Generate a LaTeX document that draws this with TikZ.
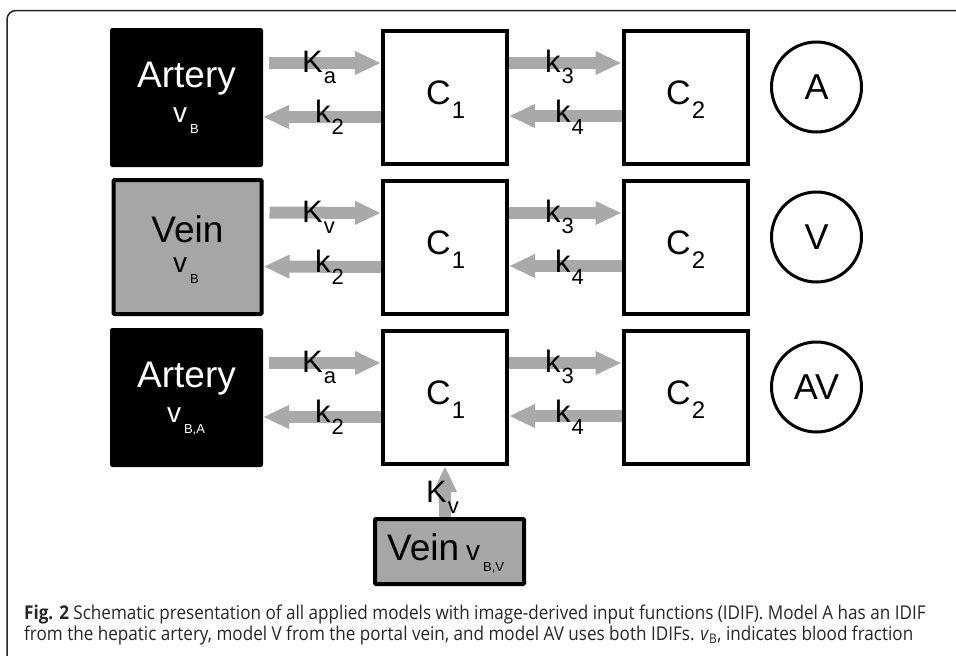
\documentclass[tikz,border=0pt]{standalone}
\usepackage{fontspec}
\setmainfont{Liberation Sans}
\newfontfamily\capfont[FakeStretch=0.9]{Open Sans}
\usetikzlibrary{arrows.meta}
\definecolor{arrowgray}{HTML}{A9A9A9}
\definecolor{veingray}{HTML}{A6A6A6}
\newcommand{\klab}[3]{{\fontsize{31}{31}\selectfont #1}\hspace{1pt}\raisebox{-#3}{\fontsize{22}{22}\selectfont #2}}
\newcommand{\clab}[2]{{\fontsize{34}{34}\selectfont C}\hspace{1pt}\raisebox{-14pt}{\fontsize{24}{24}\selectfont #2}}
\newcommand{\vlab}[1]{{\fontsize{28}{28}\selectfont v}\hspace{3pt}\raisebox{-11pt}{\fontsize{13}{13}\selectfont #1}}
\begin{document}
\begin{tikzpicture}[x=1pt,y=-1pt,
 cbox/.style={draw=black,line width=4pt,fill=white,minimum width=124pt,minimum height=133pt,inner sep=0},
 artbox/.style={draw=black,fill=black,line width=1pt,rounded corners=2pt,minimum width=152pt,minimum height=138pt,inner sep=0},
 veinbox/.style={draw=black,fill=veingray,line width=4pt,rounded corners=1pt,minimum width=148pt,minimum height=134pt,inner sep=0},
 ga/.style={draw=arrowgray,line width=12pt,-{Triangle[length=26pt,width=22pt]}},
 lbl/.style={inner sep=0,anchor=base west},
 btxt/.style={inner sep=0,anchor=base},
 circ/.style={draw=black,line width=3pt,circle,minimum size=90pt,inner sep=0,font=\fontsize{36}{36}\selectfont}]
\useasboundingbox (0,0) rectangle (956,656);
% frame
\draw[line width=1.5pt,black!85,rounded corners=9pt] (7,656) -- (7,10.5) -- (956,10.5);

% ---------- row 1 ----------
\node[artbox] (L1) at (186.5,97.5) {};
\node[cbox] (C11) at (445,97.5) {};
\node[cbox] (C21) at (685.5,97.5) {};
\node[circ] (M1) at (816.5,87) {A};
\draw[ga] ([xshift=6pt,yshift=34.5pt]L1.east) -- ([yshift=34.5pt]C11.west);
\draw[ga] ([yshift=-19.5pt]C11.west) -- ([yshift=-19.5pt]L1.east);
\draw[ga] ([yshift=34.5pt]C11.east) -- ([yshift=34.5pt]C21.west);
\draw[ga] ([yshift=-18.5pt]C21.west) -- ([yshift=-18.5pt]C11.east);
\node[btxt,white,font=\fontsize{37}{37}\selectfont] (L1t) at (186.5,87) {Artery};
\node[btxt,white] (L1v) at (186,122) {\vlab{B}};
\node[lbl] (ka1) at (302,72) {\klab{K}{a}{11pt}};
\node[lbl] (k21) at (315,122) {\klab{k}{2}{12pt}};
\node[lbl] (k31) at (545,72) {\klab{k}{3}{11pt}};
\node[lbl] (k41) at (555,122) {\klab{k}{4}{12pt}};
\node[lbl] (c11) at (426,104) {\clab{C}{1}};
\node[lbl] (c21) at (666,104) {\clab{C}{2}};

% ---------- row 2 ----------
\node[veinbox] (L2) at (187.5,247) {};
\node[cbox] (C12) at (445,247.5) {};
\node[cbox] (C22) at (685.5,247.5) {};
\node[circ] (M2) at (816.5,237) {V};
\draw[ga] ([xshift=6pt,yshift=34.5pt]L2.east) -- ([yshift=34.5pt]C12.west);
\draw[ga] ([yshift=-19.5pt]C12.west) -- ([yshift=-19.5pt]L2.east);
\draw[ga] ([yshift=34.5pt]C12.east) -- ([yshift=34.5pt]C22.west);
\draw[ga] ([yshift=-18.5pt]C22.west) -- ([yshift=-18.5pt]C12.east);
\node[btxt,font=\fontsize{37}{37}\selectfont] (L2t) at (187.5,242) {Vein};
\node[btxt] (L2v) at (186,272) {\vlab{B}};
\node[lbl] (kv2) at (302,222) {\klab{K}{v}{11pt}};
\node[lbl] (k22) at (315,272) {\klab{k}{2}{12pt}};
\node[lbl] (k32) at (545,222) {\klab{k}{3}{11pt}};
\node[lbl] (k42) at (555,272) {\klab{k}{4}{12pt}};
\node[lbl] (c12) at (426,254) {\clab{C}{1}};
\node[lbl] (c22) at (666,254) {\clab{C}{2}};

% ---------- row 3 ----------
\node[artbox] (L3) at (186.5,397.5) {};
\node[cbox] (C13) at (445,397.5) {};
\node[cbox] (C23) at (685.5,397.5) {};
\node[circ] (M3) at (816.5,387) {AV};
\draw[ga] ([xshift=6pt,yshift=34.5pt]L3.east) -- ([yshift=34.5pt]C13.west);
\draw[ga] ([yshift=-19.5pt]C13.west) -- ([yshift=-19.5pt]L3.east);
\draw[ga] ([yshift=34.5pt]C13.east) -- ([yshift=34.5pt]C23.west);
\draw[ga] ([yshift=-18.5pt]C23.west) -- ([yshift=-18.5pt]C13.east);
\node[btxt,white,font=\fontsize{37}{37}\selectfont] (L3t) at (186.5,387) {Artery};
\node[btxt,white] (L3v) at (186,422) {\vlab{B,A}};
\node[lbl] (ka3) at (302,372) {\klab{K}{a}{11pt}};
\node[lbl] (k23) at (315,422) {\klab{k}{2}{12pt}};
\node[lbl] (k33) at (545,372) {\klab{k}{3}{11pt}};
\node[lbl] (k43) at (555,422) {\klab{k}{4}{12pt}};
\node[lbl] (c13) at (426,404) {\clab{C}{1}};
\node[lbl] (c23) at (666,404) {\clab{C}{2}};

% ---------- bottom vein ----------
\node[veinbox,minimum width=149pt,minimum height=65pt] (VB) at (449.5,551.5) {};
\draw[ga] (VB.north -| C13.south) -- (C13.south);
\node[lbl,font=\fontsize{37}{37}\selectfont] (VBt) at (387,560) {Vein};
\node[lbl] (VBv) at (466,560) {\vlab{B,V}};
\node[lbl] (kvb) at (426,502) {\klab{K}{v}{11pt}};

% ---------- caption ----------
\node[lbl,black!85,font=\capfont\fontsize{19}{20}\selectfont] (cap1) at (24,619) {\textbf{Fig. 2} Schematic presentation of all applied models with image-derived input functions (IDIF). Model A has an IDIF};
\node[lbl,black!85,font=\capfont\fontsize{19}{20}\selectfont] (cap2) at (24,640) {from the hepatic artery, model V from the portal vein, and model AV uses both IDIFs. \textit{v}\textsubscript{B}, indicates blood fraction};
\end{tikzpicture}
\end{document}
